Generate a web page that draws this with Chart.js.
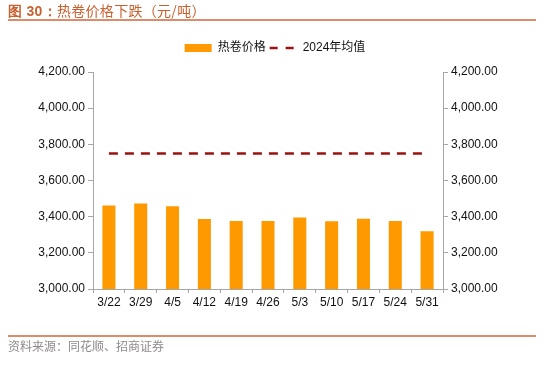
<!DOCTYPE html>
<html><head><meta charset="utf-8">
<script src="https://cdn.jsdelivr.net/npm/chart.js@4/dist/chart.umd.min.js"></script>
<style>
html,body{margin:0;padding:0;background:#fff;width:550px;height:379px;overflow:hidden;}
#wrap{position:relative;width:550px;height:379px;}
#c{position:absolute;left:0;top:0;}
.title{position:absolute;left:8px;top:2px;font-family:"Noto Sans CJK SC","Liberation Sans",sans-serif;font-size:14px;color:#C8602F;line-height:17px;white-space:nowrap;letter-spacing:0.3px;}
.title b{font-family:"Liberation Sans",Arial,sans-serif;}
.hl{position:absolute;left:8px;width:528px;height:2px;background:#E08A6C;}
.src{position:absolute;left:8px;top:338px;font-family:"Noto Sans CJK SC",sans-serif;font-size:12px;color:#8c8c8c;line-height:15px;white-space:nowrap;}
</style></head>
<body><div id="wrap">
<canvas id="c" width="550" height="379"></canvas>
<div class="title"><b>图 30：</b>热卷价格下跌（元/吨）</div>
<div class="hl" style="top:19px"></div>
<div class="hl" style="top:335px"></div>
<div class="src">资料来源：同花顺、招商证券</div>
</div>
<script>
const categories = ["3/22","3/29","4/5","4/12","4/19","4/26","5/3","5/10","5/17","5/24","5/31"];
const hotCoilPrice = [3462,3473,3457,3387,3376,3376,3396,3375,3389,3376,3320];
const avg2024 = [3750,3750,3750,3750,3750,3750,3750,3750,3750,3750,3750];
const yTicks = [3000,3200,3400,3600,3800,4000,4200];
const seriesNames = ["热卷价格","2024年均值"];

const FONT = "'Liberation Sans', Arial, 'Noto Sans CJK SC', sans-serif";
const fmt = v => v.toLocaleString('en-US',{minimumFractionDigits:2,maximumFractionDigits:2});
const DASH = [9,7];
const yAxis = (pos, w) => ({
  position: pos, min: 3000, max: 4200,
  afterBuildTicks: s => { s.ticks = yTicks.map(v => ({value:v})); },
  afterFit: s => { s.width = w; },
  ticks: { callback: v => fmt(v), color:'#111', font:{family:FONT,size:12}, padding:3 },
  grid: { drawOnChartArea:false, drawTicks:true, tickLength:5, color:'#a6a6a6' },
  border: { color:'#a6a6a6', width:1 }
});

new Chart(document.getElementById('c'), {
  data: {
    labels: categories,
    datasets: [
      { type:'bar', label:seriesNames[0], data:hotCoilPrice, backgroundColor:'#FF9900',
        barPercentage:0.41, categoryPercentage:1.0, yAxisID:'y' },
      { type:'line', label:seriesNames[1], data:avg2024, borderColor:'#991111',
        borderWidth:2.5, borderDash:DASH, pointRadius:0, fill:false, yAxisID:'y' }
    ]
  },
  options: {
    responsive:false, animation:false,
    layout: { padding: { top:38, left:0, right:0, bottom:60 } },
    scales: {
      x: {
        afterFit: s => { s.height = 30; },
        ticks: { color:'#111', font:{family:FONT,size:12}, padding:2, maxRotation:0 },
        grid: { offset:true, drawOnChartArea:false, tickLength:4, color:'#a6a6a6' },
        border: { color:'#a6a6a6' }
      },
      y: yAxis('left', 93),
      y2: yAxis('right', 107)
    },
    plugins: {
      legend: {
        position:'top',
        labels: {
          usePointStyle:true, pointStyleWidth:27, boxHeight:8, padding:4,
          color:'#111', font:{family:FONT,size:12},
          generateLabels: chart => {
            const items = Chart.defaults.plugins.legend.labels.generateLabels(chart);
            items.sort((a,b) => a.datasetIndex - b.datasetIndex);
            items.forEach(it => {
              if (it.datasetIndex===0) { it.pointStyle='rect'; it.lineWidth=0; it.fillStyle='#FF9900'; }
              else { it.pointStyle='line'; it.lineDash=[8,8]; it.lineWidth=2.5; it.strokeStyle='#991111'; }
            });
            return items;
          }
        }
      },
      subtitle: { display:true, text:' ', weight:500, position:'top', font:{size:1,lineHeight:1}, padding:{top:0,bottom:7} },
      title: { display:false },
      tooltip: { enabled:false }
    }
  }
});
</script>
</body></html>
